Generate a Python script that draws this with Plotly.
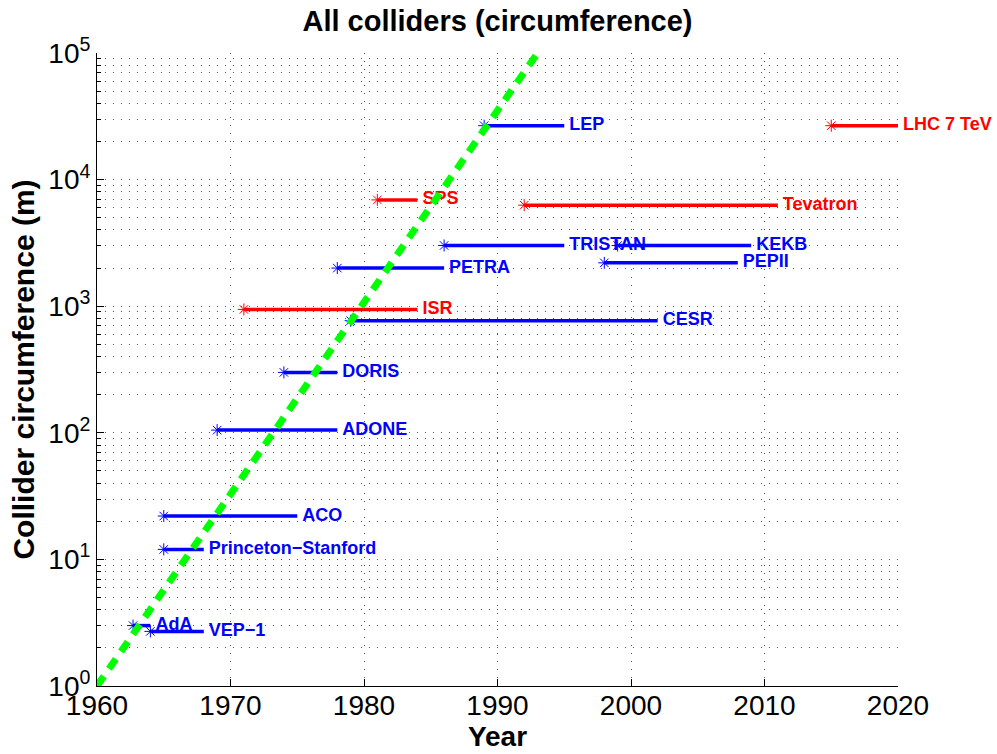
import plotly.graph_objects as go

# ---- data ----
names = ["AdA", "VEP\u22121", "Princeton\u2212Stanford", "ACO", "ADONE", "DORIS", "ISR", "CESR",
         "PETRA", "SPS", "TRISTAN", "LEP", "Tevatron", "PEPII", "KEKB", "LHC 7 TeV"]
start_year = [1962.7, 1964, 1965, 1965, 1969, 1974, 1971, 1979,
              1978, 1981, 1986, 1989, 1992, 1998, 1999, 2015]
end_year = [1964, 1968, 1968, 1975, 1978, 1978, 1984, 2002,
            1986, 1984, 1995, 1995, 2011, 2008, 2009, 2020]
circumference = [3, 2.7, 12, 22, 105, 300, 943, 768,
                 2000, 6911, 3018, 26659, 6280, 2200, 3016, 26659]
hadron = [False, False, False, False, False, False, True, False,
          False, True, False, False, True, False, False, True]

trend_years = [1960, 1993]
trend_values = [1, 1e5]

x_ticks = [1960, 1970, 1980, 1990, 2000, 2010, 2020]
y_ticks = [1, 10, 100, 1000, 10000, 100000]
y_ticktext = ["10<sup>%d</sup>" % i for i in range(6)]

BLUE = "#0000ff"
RED = "#ff0000"
FONT = "Liberation Sans, Arial, sans-serif"

W, H = 997, 754
L, R, T, B = 97, 99, 53, 68

fig = go.Figure()

# labels first (so lines can overlap them as in the reference)
for n, e, c, h in zip(names, end_year, circumference, hadron):
    col = RED if h else BLUE
    fig.add_trace(go.Scatter(
        x=[e], y=[c], mode="text", text=["\u00a0" + n], textposition="middle right",
        cliponaxis=False,
        textfont=dict(family=FONT, size=18, color=col, weight="bold"),
        showlegend=False, hoverinfo="skip"))

for n, s, e, c, h in zip(names, start_year, end_year, circumference, hadron):
    col = RED if h else BLUE
    fig.add_trace(go.Scatter(
        x=[s, e], y=[c, c], mode="lines", line=dict(color=col, width=3.5),
        showlegend=False, hoverinfo="skip"))
    fig.add_trace(go.Scatter(
        x=[s], y=[c], mode="markers",
        marker=dict(symbol="asterisk-open", size=10, color=col,
                    line=dict(color=col, width=1)),
        showlegend=False, name=n))

fig.add_trace(go.Scatter(
    x=trend_years, y=trend_values, mode="lines",
    line=dict(color="#00ff00", width=7, dash="12px,9px"),
    showlegend=False, hoverinfo="skip"))

fig.update_layout(
    width=W, height=H,
    margin=dict(l=L, r=R, t=T, b=B),
    paper_bgcolor="white", plot_bgcolor="white",
    font=dict(family=FONT, color="black"),
    title=dict(text="<b>All colliders (circumference)</b>", x=(L + (W - L - R) / 2) / W,
               xanchor="center", y=1 - 21 / H, yanchor="middle",
               font=dict(size=29, family=FONT)),
)

fig.update_xaxes(
    range=[1960, 2020], tickvals=x_ticks, ticktext=[str(t) for t in x_ticks],
    automargin=False,
    showline=True, linecolor="black", linewidth=1, mirror=False,
    ticks="inside", ticklen=7, tickcolor="black",
    showgrid=True, gridcolor="#555", gridwidth=1, griddash="1px,7px",
    zeroline=False, ticklabelstandoff=-6,
    tickfont=dict(size=28, family=FONT),
    title=dict(text="<b>Year</b>", font=dict(size=28, family=FONT), standoff=0),
)

fig.update_yaxes(
    type="log", range=[0, 5], tickvals=y_ticks, ticktext=y_ticktext,
    automargin=False,
    showline=True, linecolor="black", linewidth=1, mirror=False,
    ticks="inside", ticklen=7, tickcolor="black",
    showgrid=True, gridcolor="#555", gridwidth=1, griddash="1px,7px",
    minor=dict(dtick="D1", ticks="inside", ticklen=4, tickcolor="black",
               showgrid=True, gridcolor="#555", gridwidth=1, griddash="1px,7px"),
    zeroline=False,
    tickfont=dict(size=28, family=FONT),
    title=dict(text="<b>Collider circumference (m)</b>", font=dict(size=30, family=FONT), standoff=4),
)

fig.write_html("out.html", config={"displayModeBar": False},
               post_script="document.body.style.margin='0';document.body.style.overflow='hidden';")
